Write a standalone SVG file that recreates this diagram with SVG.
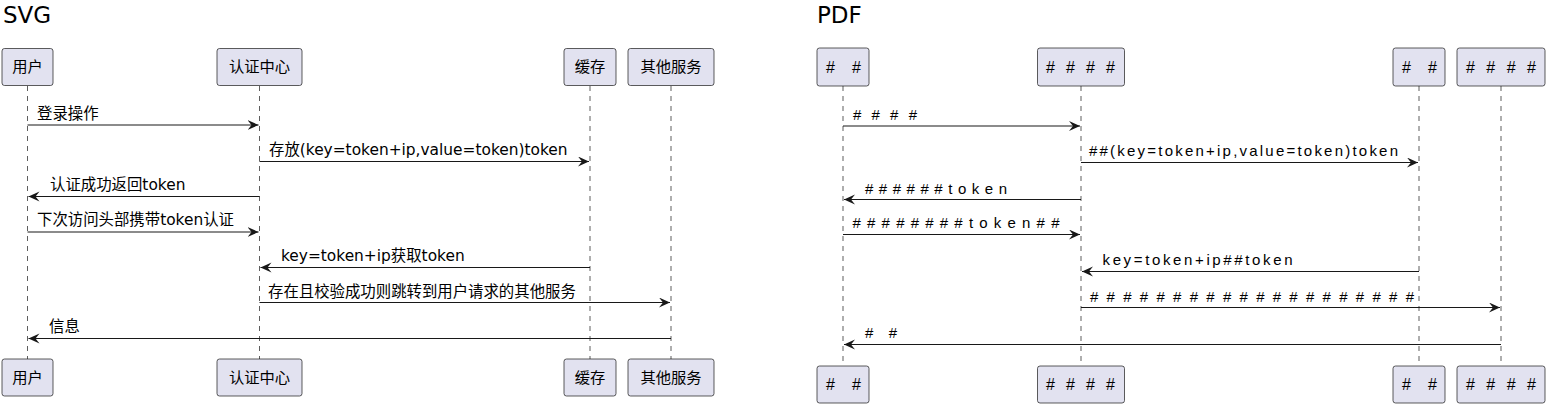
<svg xmlns="http://www.w3.org/2000/svg" width="1547" height="406" viewBox="0 0 1547 406">
<style>
.title{font-family:"DejaVu Sans","Noto Sans CJK SC",sans-serif;font-size:23px;fill:#000}
.box{fill:#E2E2F0;stroke:#181818;stroke-width:0.7}
.bt{font-family:"DejaVu Sans","Noto Sans CJK SC",sans-serif;font-size:15.3px;fill:#000;text-anchor:middle}
.ph{font-family:"Liberation Sans","Noto Sans CJK SC",sans-serif;font-size:16px;fill:#000}
.life{stroke:#181818;stroke-width:0.7;stroke-dasharray:5,5;fill:none}
.msg{stroke:#181818;stroke-width:1.2;fill:none;marker-end:url(#ah)}
.lbl{font-family:"DejaVu Sans","Noto Sans CJK SC",sans-serif;font-size:15.4px;fill:#000}
.plbl{font-family:"Liberation Sans","Noto Sans CJK SC",sans-serif;font-size:15px;fill:#000}
</style>
<defs>
<marker id="ah" markerUnits="userSpaceOnUse" markerWidth="13" markerHeight="12" refX="11" refY="5" orient="auto" viewBox="0 0 13 12">
<path d="M0,0 L11,5 L0,10 L4,5 Z" fill="#181818"/>
</marker>
</defs>
<rect width="1547" height="406" fill="#fff"/>
<text class="title" x="3" y="22.5">SVG</text>
<text class="title" x="817" y="22.5">PDF</text>

<g id="lifelines">
<line class="life" x1="27.5" y1="86" x2="27.5" y2="359"/>
<line class="life" x1="259.5" y1="86" x2="259.5" y2="359"/>
<line class="life" x1="590" y1="86" x2="590" y2="359"/>
<line class="life" x1="671" y1="86" x2="671" y2="359"/>
<line class="life" x1="843" y1="86" x2="843" y2="366"/>
<line class="life" x1="1081" y1="86" x2="1081" y2="366"/>
<line class="life" x1="1419" y1="86" x2="1419" y2="366"/>
<line class="life" x1="1501" y1="86" x2="1501" y2="366"/>
</g>

<g id="svg-user-top"><rect class="box" x="2" y="48.5" width="51" height="37" rx="2.5"/><text class="bt" x="27.5" y="72">用户</text></g>
<g id="svg-auth-top"><rect class="box" x="217" y="48.5" width="85" height="37" rx="2.5"/><text class="bt" x="259.5" y="72">认证中心</text></g>
<g id="svg-cache-top"><rect class="box" x="564" y="48.5" width="52" height="37" rx="2.5"/><text class="bt" x="590" y="72">缓存</text></g>
<g id="svg-other-top"><rect class="box" x="628" y="48.5" width="86" height="37" rx="2.5"/><text class="bt" x="671" y="72">其他服务</text></g>
<g id="svg-user-bot"><rect class="box" x="2" y="359" width="51" height="37" rx="2.5"/><text class="bt" x="27.5" y="383">用户</text></g>
<g id="svg-auth-bot"><rect class="box" x="217" y="359" width="85" height="37" rx="2.5"/><text class="bt" x="259.5" y="383">认证中心</text></g>
<g id="svg-cache-bot"><rect class="box" x="564" y="359" width="52" height="37" rx="2.5"/><text class="bt" x="590" y="383">缓存</text></g>
<g id="svg-other-bot"><rect class="box" x="628" y="359" width="86" height="37" rx="2.5"/><text class="bt" x="671" y="383">其他服务</text></g>

<g id="pdf-user-top"><rect class="box" x="817" y="48" width="52" height="38" rx="2.5"/><text class="ph" x="826" y="73">#<tspan x="852">#</tspan></text></g>
<g id="pdf-auth-top"><rect class="box" x="1037.5" y="48" width="87" height="38" rx="2.5"/><text class="ph" x="1046" y="73" textLength="69" lengthAdjust="spacing"># # # #</text></g>
<g id="pdf-cache-top"><rect class="box" x="1393" y="48" width="52" height="38" rx="2.5"/><text class="ph" x="1402" y="73">#<tspan x="1428">#</tspan></text></g>
<g id="pdf-other-top"><rect class="box" x="1457" y="48" width="88" height="38" rx="2.5"/><text class="ph" x="1466" y="73" textLength="70" lengthAdjust="spacing"># # # #</text></g>
<g id="pdf-user-bot"><rect class="box" x="817" y="366" width="52" height="37" rx="2.5"/><text class="ph" x="826" y="390">#<tspan x="852">#</tspan></text></g>
<g id="pdf-auth-bot"><rect class="box" x="1037.5" y="366" width="87" height="37" rx="2.5"/><text class="ph" x="1046" y="390" textLength="69" lengthAdjust="spacing"># # # #</text></g>
<g id="pdf-cache-bot"><rect class="box" x="1393" y="366" width="52" height="37" rx="2.5"/><text class="ph" x="1402" y="390">#<tspan x="1428">#</tspan></text></g>
<g id="pdf-other-bot"><rect class="box" x="1457" y="366" width="88" height="37" rx="2.5"/><text class="ph" x="1466" y="390" textLength="70" lengthAdjust="spacing"># # # #</text></g>

<g id="connectors">
<line class="msg" x1="27.5" y1="125" x2="258.5" y2="125"/>
<line class="msg" x1="259.5" y1="161.5" x2="589" y2="161.5"/>
<line class="msg" x1="259.5" y1="196.5" x2="28.5" y2="196.5"/>
<line class="msg" x1="27.5" y1="232" x2="258.5" y2="232"/>
<line class="msg" x1="590" y1="267.5" x2="260.5" y2="267.5"/>
<line class="msg" x1="259.5" y1="302.5" x2="670" y2="302.5"/>
<line class="msg" x1="671" y1="338.5" x2="28.5" y2="338.5"/>

<line class="msg" x1="843" y1="126" x2="1080" y2="126"/>
<line class="msg" x1="1081" y1="162.5" x2="1418" y2="162.5"/>
<line class="msg" x1="1081" y1="199.5" x2="844" y2="199.5"/>
<line class="msg" x1="843" y1="234.5" x2="1080" y2="234.5"/>
<line class="msg" x1="1419" y1="271.5" x2="1082" y2="271.5"/>
<line class="msg" x1="1081" y1="307.5" x2="1500" y2="307.5"/>
<line class="msg" x1="1501" y1="344.5" x2="844" y2="344.5"/>
</g>

<g id="labels">
<text class="lbl" x="37" y="119">登录操作</text>
<text class="lbl" x="269" y="155">存放(key=token+ip,value=token)token</text>
<text class="lbl" x="50" y="190">认证成功返回token</text>
<text class="lbl" x="37" y="225">下次访问头部携带token认证</text>
<text class="lbl" x="281" y="261">key=token+ip获取token</text>
<text class="lbl" x="268" y="296.5">存在且校验成功则跳转到用户请求的其他服务</text>
<text class="lbl" x="49" y="332">信息</text>

<text class="plbl" x="853" y="120" textLength="64" lengthAdjust="spacing"># # # #</text>
<text class="plbl" x="1089" y="156" textLength="309" lengthAdjust="spacing">##(key=token+ip,value=token)token</text>
<text class="plbl" x="865" y="193.5" textLength="142" lengthAdjust="spacing">######token</text>
<text class="plbl" x="852.5" y="228" textLength="207" lengthAdjust="spacing">########token##</text>
<text class="plbl" x="1102.5" y="265" textLength="190" lengthAdjust="spacing">key=token+ip##token</text>
<text class="plbl" x="1090" y="301.5" textLength="324" lengthAdjust="spacing">####################</text>
<text class="plbl" x="865" y="337.5" textLength="32" lengthAdjust="spacing">#  #</text>
</g>
</svg>
